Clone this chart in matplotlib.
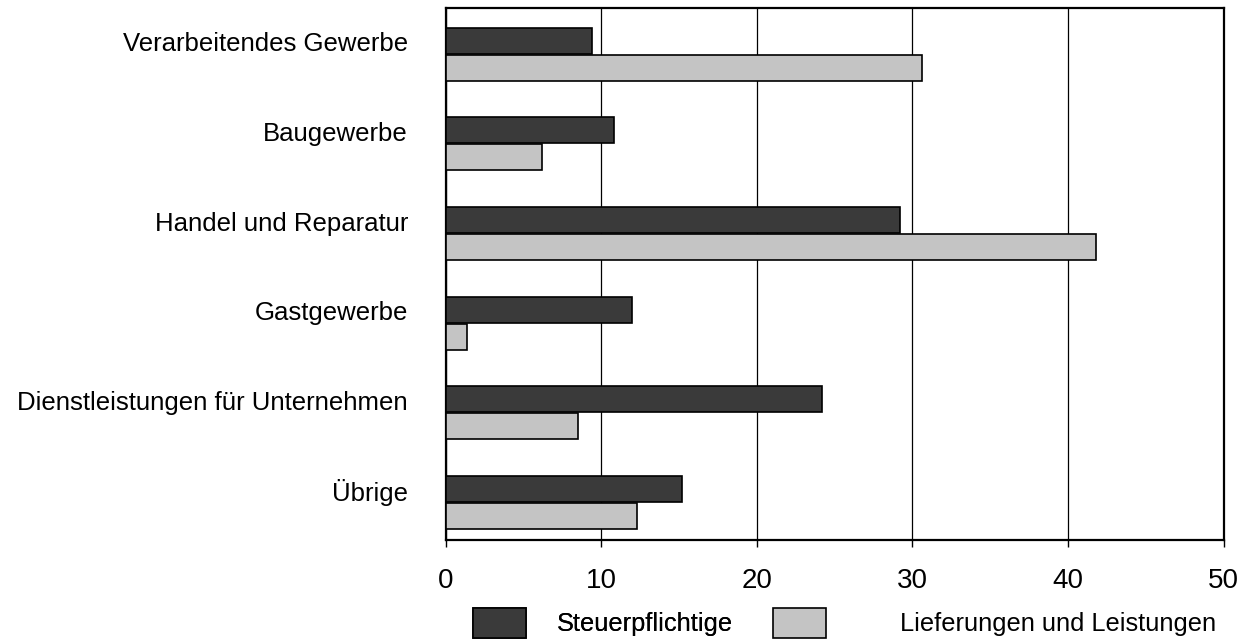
import matplotlib.pyplot as plt
import numpy as np

categories = [
    "Verarbeitendes Gewerbe",
    "Baugewerbe",
    "Handel und Reparatur",
    "Gastgewerbe",
    "Dienstleistungen für Unternehmen",
    "Übrige",
]
steuerpflichtige = [9.4, 10.8, 29.2, 12.0, 24.2, 15.2]
lieferungen = [30.6, 6.2, 41.8, 1.4, 8.5, 12.3]
x_ticks = [0, 10, 20, 30, 40, 50]

plt.rcParams["font.family"] = ["Liberation Sans", "DejaVu Sans"]

fig = plt.figure(figsize=(12.55, 6.4), dpi=100)
ax = fig.add_axes([0.355, 0.156, 0.62, 0.832])

y = np.arange(len(categories))
h = 0.29
dark = ax.barh(y - 0.01, steuerpflichtige, height=h, color="#3a3a3a",
               edgecolor="black", linewidth=1.2, zorder=3)
light = ax.barh(y + h, lieferungen, height=h, color="#c4c4c4",
                edgecolor="black", linewidth=1.2, zorder=3)

ax.set_xlim(0, 50)
ax.set_ylim(5.56, -0.38)
ax.set_xticks(x_ticks)
ax.set_xticklabels([str(t) for t in x_ticks], fontsize=20)
ax.set_yticks(y)
ax.set_yticklabels(categories, fontsize=18.5)
ax.tick_params(axis="y", length=0, pad=27)
ax.tick_params(axis="x", length=5, width=1, pad=15)
ax.grid(axis="x", color="black", linewidth=0.9, zorder=0)
for s in ax.spines.values():
    s.set_linewidth(1.6)

leg_kw = dict(frameon=False, fontsize=18.3, handlelength=2.1, handleheight=1.4,
              borderpad=0, borderaxespad=0, loc="center left")
leg1 = fig.legend([dark], ["Steuerpflichtige"], handletextpad=1.2,
                  bbox_to_anchor=(473 / 1255, 1 - 623 / 640), **leg_kw)
fig.add_artist(leg1)
fig.legend([light], ["Lieferungen und Leistungen"], handletextpad=2.9,
           bbox_to_anchor=(773 / 1255, 1 - 623 / 640), **leg_kw)

fig.savefig("out.png", dpi=100)
